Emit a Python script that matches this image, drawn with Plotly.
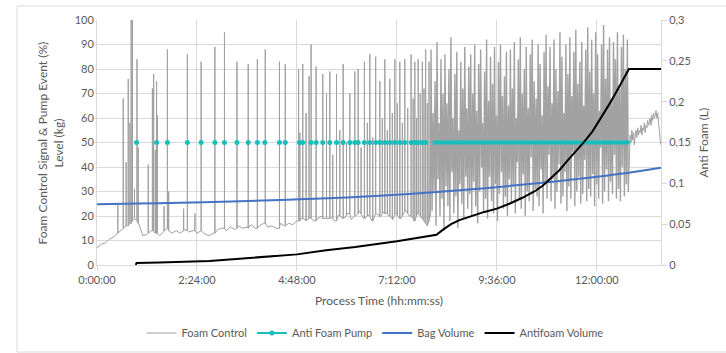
import plotly.graph_objects as go

# ---------------- tick labels ----------------
x_tick_hours = [0, 2.4, 4.8, 7.2, 9.6, 12.0]
x_tick_labels = ["0:00:00", "2:24:00", "4:48:00", "7:12:00", "9:36:00", "12:00:00"]
y2_tick_vals = [0, 0.05, 0.1, 0.15, 0.2, 0.25, 0.3]
y2_tick_labels = ["0", "0,05", "0,1", "0,15", "0,2", "0,25", "0,3"]

# ---------------- Foam Control (%) ----------------
# baseline sampled every 0.1 h from 0:00 to 8:00
foam_base_step = 0.1
foam_base_values = [7, 8.5, 9, 10.5, 11.5, 13, 14.5, 16, 17, 19,
                    17, 12, 12.5, 14, 13, 12, 13.5, 15, 13, 14,
                    13, 14.5, 13.5, 14, 13, 14, 12.5, 12, 13, 14.5,
                    15, 14, 15.5, 14.5, 16, 15, 15.5, 16.5, 15, 16,
                    17, 15.5, 16, 15, 17, 16, 17, 16.5, 18, 19,
                    18.5, 19.5, 18, 19, 20, 19, 19.5, 18, 20.5, 19,
                    21, 18.5, 20, 22, 19, 20.5, 18, 21, 19.5, 22,
                    20, 18.5, 21, 19, 22.5, 20, 18, 21.5, 19, 17, 20]
# spikes (hours, foot value, peak value)
spike_times = [0.50, 0.63, 0.70, 0.75, 0.79, 0.82, 0.85, 0.90, 0.96, 0.99,
               1.23, 1.33, 1.36, 1.40, 1.43, 1.45, 1.61, 1.69, 1.72, 2.08,
               2.17, 2.35, 2.50, 2.83, 3.06, 3.36, 3.63, 3.85, 4.04, 4.38,
               4.52, 4.84, 4.87, 4.94, 5.02, 5.09, 5.14, 5.26, 5.42, 5.51,
               5.59, 5.66, 5.75, 5.83, 5.91, 5.99, 6.07, 6.19, 6.27, 6.34,
               6.42, 6.49, 6.55, 6.62, 6.69, 6.79, 6.85, 6.91, 6.97, 7.03,
               7.09, 7.15, 7.21, 7.27, 7.33, 7.39, 7.46, 7.54, 7.59, 7.63,
               7.67, 7.71, 7.76, 7.81, 7.85, 7.89, 7.93, 7.97]
spike_lows = [13, 15, 16, 16, 17, 17, 18, 19, 18, 17,
              13, 14, 14, 13, 13, 13, 14, 15, 14, 14,
              14, 14, 14, 13, 15, 15, 15, 15, 17, 15,
              16, 18, 18, 19, 18, 19, 19, 18, 19, 19,
              19, 19, 18, 20, 19, 20, 21, 20, 21, 21,
              19, 20, 20, 18, 21, 20, 21, 21, 21, 20,
              19, 21, 20, 19, 20, 22, 21, 20, 19, 18,
              20, 21, 20, 19, 18, 17, 16, 18]
spike_highs = [25, 68, 42, 76, 58, 100, 100, 31, 84, 48,
               41, 72, 78, 47, 75, 61, 24, 88, 30, 23,
               86, 21, 83, 89, 95, 83, 82, 84, 88, 83,
               82, 80, 54, 82, 62, 77, 90, 81, 78, 70,
               79, 45, 78, 55, 82, 50, 70, 79, 80, 48,
               83, 58, 86, 52, 85, 75, 60, 84, 55, 76,
               62, 84, 66, 83, 58, 84, 64, 86, 68, 83,
               60, 84, 70, 83, 72, 88, 66, 83]
# dense oscillation period (8:01 - 12:47)
dense_start = 8.02
dense_end = 12.78
dense_peaks = [88, 62, 75, 91, 58, 84, 70, 86, 66, 80, 93, 60, 78, 87, 55, 83, 72, 89, 64, 81,
               86, 70, 90, 63, 82, 88, 58, 79, 92, 67, 85, 74, 89, 61, 83, 90, 69, 77, 87, 65,
               88, 72, 91, 60, 84, 93, 70, 80, 89, 64, 86, 92, 75, 68, 90, 82, 61, 87, 94, 73,
               89, 66, 92, 80, 71, 95, 85, 62, 90, 78, 93, 69, 87, 96, 74, 83, 91, 65, 88, 97,
               79, 92, 70, 95, 86, 63, 90, 98, 76, 88, 93, 68, 91, 84, 95, 72, 89, 94, 80, 92]
dense_troughs = [22, 30, 16, 35, 20, 27, 14, 32, 24, 18, 38, 21, 28, 15, 33, 25, 19, 36, 23, 29,
                 20, 34, 24, 17, 30, 40, 22, 27, 19, 36, 26, 21, 33, 18, 29, 38, 23, 28, 20, 35,
                 25, 32, 21, 42, 27, 23, 37, 20, 30, 26, 44, 22, 31, 28, 24, 39, 21, 33, 27, 45,
                 26, 35, 23, 30, 41, 25, 28, 38, 22, 32, 27, 46, 24, 30, 36, 25, 29, 43, 26, 31,
                 28, 37, 24, 33, 27, 48, 25, 30, 39, 26, 34, 29, 45, 27, 31, 26, 40, 28, 33, 30]
# tail after last pump event
tail_start = 12.80
tail_step = 0.02
tail_values = [53, 50, 55, 51, 54, 49, 53, 55, 52, 56, 53, 55, 54, 57, 53, 56, 55, 58, 54,
               57, 56, 59, 57, 58, 60, 57, 61, 59, 62, 60, 61, 63, 60, 62, 58, 55, 51, 49]

# ---------------- Anti Foam Pump events (hours, level 50) ----------------
pump_level = 50
pump_event_times = [0.95, 1.43, 1.69, 2.17, 2.50, 2.83, 3.06, 3.36, 3.63, 3.85, 4.03,
                    4.38, 4.52, 4.86, 4.94, 5.14, 5.26, 5.42, 5.59, 5.75, 5.91, 6.07,
                    6.19, 6.27, 6.42, 6.55, 6.69, 6.79, 6.91, 7.03, 7.15, 7.27, 7.39,
                    7.54, 7.63, 7.71, 7.81, 7.89]
pump_continuous = [8.06, 12.79]

# ---------------- Bag Volume (kg) ----------------
bag_times = [0, 1, 2, 3, 4, 5, 6, 7, 8, 9, 10, 11, 12, 13, 13.54]
bag_values = [24.8, 25.1, 25.4, 25.8, 26.3, 26.9, 27.6, 28.5, 29.6, 30.9, 32.4, 34.1, 36.0, 38.3, 39.7]

# ---------------- Antifoam Volume (L) ----------------
af_times = [0.93, 0.95, 1.5, 2.0, 2.7, 3.5, 4.2, 4.8, 5.5, 6.2, 7.2, 7.8, 8.15, 8.3, 8.5,
            8.7, 9.0, 9.3, 9.6, 9.9, 10.2, 10.5, 10.7, 10.9, 11.1, 11.3, 11.5, 11.7, 11.9,
            12.1, 12.3, 12.5, 12.65, 12.77, 13.54]
af_values = [0.0, 0.0025, 0.003, 0.004, 0.005, 0.008, 0.011, 0.013, 0.018, 0.022, 0.029,
             0.034, 0.037, 0.043, 0.050, 0.055, 0.060, 0.065, 0.069, 0.075, 0.082, 0.090,
             0.097, 0.106, 0.116, 0.128, 0.139, 0.151, 0.164, 0.180, 0.197, 0.215, 0.229,
             0.240, 0.240]

# ---------------- build foam series ----------------
pts = [(i * foam_base_step, v, 0) for i, v in enumerate(foam_base_values)]
for t, lo, hi in zip(spike_times, spike_lows, spike_highs):
    pts += [(t, lo, 1), (t, hi, 2), (t, lo, 3)]
pts.sort(key=lambda p: (p[0], p[2]))
foam_x = [p[0] for p in pts]
foam_y = [p[1] for p in pts]
n = len(dense_peaks)
step = (dense_end - dense_start) / n
dense_x = [foam_x[-1]]
dense_y = [foam_y[-1]]
for i in range(n):
    dense_x += [dense_start + i * step, dense_start + (i + 0.5) * step]
    dense_y += [dense_peaks[i], dense_troughs[i]]
tail_x = [dense_x[-1]] + [tail_start + i * tail_step for i in range(len(tail_values))]
tail_y = [dense_y[-1]] + list(tail_values)

pump_x, pump_y = [], []
for t in pump_event_times:
    pump_x += [t, None]
    pump_y += [pump_level, None]

FONT = "Lato, 'Open Sans', sans-serif"
GRID = "#d9d9d9"
TXT = "#595959"
CYAN = "#17BEBB"
FOAM = "#a0a0a0"

fig = go.Figure()
fig.add_trace(go.Scatter(x=foam_x, y=foam_y, mode="lines", name="Foam Control",
                         legendgroup="foam", line=dict(color=FOAM, width=1, simplify=False)))
fig.add_trace(go.Scatter(x=dense_x, y=dense_y, mode="lines", name="Foam Control",
                         legendgroup="foam", showlegend=False,
                         line=dict(color="#a2a2a2", width=1.4, simplify=False)))
fig.add_trace(go.Scatter(x=tail_x, y=tail_y, mode="lines", name="Foam Control",
                         legendgroup="foam", showlegend=False,
                         line=dict(color=FOAM, width=1, simplify=False)))
fig.add_trace(go.Scatter(x=pump_x, y=pump_y, mode="lines+markers", name="Anti Foam Pump",
                         line=dict(color=CYAN, width=2), marker=dict(size=5, color=CYAN),
                         connectgaps=False))
fig.add_trace(go.Scatter(x=pump_continuous, y=[pump_level] * len(pump_continuous), mode="lines",
                         showlegend=False, line=dict(color=CYAN, width=4)))
fig.add_trace(go.Scatter(x=bag_times, y=bag_values, mode="lines", name="Bag Volume",
                         line=dict(color="#4472C4", width=2, shape="spline")))
fig.add_trace(go.Scatter(x=af_times, y=af_values, mode="lines", name="Antifoam Volume",
                         yaxis="y2", line=dict(color="#000000", width=2)))

fig.update_layout(
    width=726, height=353,
    margin=dict(l=97, r=65, t=20, b=88, autoexpand=False),
    paper_bgcolor="white", plot_bgcolor="white",
    font=dict(family=FONT, size=11, color=TXT),
    showlegend=True,
    legend=dict(orientation="h", x=0.493, xanchor="center", yref="container",
                y=1 - 333 / 353, yanchor="middle",
                font=dict(size=11, color=TXT), bgcolor="rgba(0,0,0,0)", itemwidth=30),
    xaxis=dict(range=[0, 13.54], tickvals=x_tick_hours, ticktext=x_tick_labels,
               showgrid=True, gridcolor=GRID, gridwidth=1, zeroline=False,
               showline=True, linecolor=GRID, linewidth=1,
               ticks="outside", ticklen=5, tickcolor=GRID, tickfont=dict(size=11, color=TXT)),
    yaxis=dict(range=[0, 100], dtick=10, tick0=0, showgrid=True, gridcolor=GRID, gridwidth=1,
               zeroline=False, showline=True, linecolor=GRID, linewidth=1, ticks="",
               tickfont=dict(size=11, color=TXT)),
    yaxis2=dict(range=[0, 0.3], overlaying="y", side="right", tickvals=y2_tick_vals,
                ticktext=y2_tick_labels, showgrid=False, zeroline=False,
                showline=True, linecolor=GRID, linewidth=1, ticks="outside", ticklen=5,
                tickcolor=GRID, tickfont=dict(size=11, color=TXT)),
    annotations=[
        dict(text="Foam Control Signal & Pump Event (%)<br>Level (kg)", xref="paper", yref="paper",
             x=-0.0816, y=0.5, xanchor="center", yanchor="middle", textangle=-90,
             showarrow=False, font=dict(size=12, color=TXT)),
        dict(text="Anti Foam (L)", xref="paper", yref="paper", x=1.0745, y=0.5,
             xanchor="center", yanchor="middle", textangle=-90, showarrow=False,
             font=dict(size=12, color=TXT)),
        dict(text="Process Time (hh:mm:ss)", xref="paper", yref="paper", x=0.5, y=-0.143,
             xanchor="center", yanchor="middle", showarrow=False, font=dict(size=12, color=TXT)),
    ],
    shapes=[dict(type="rect", xref="paper", yref="paper",
                 x0=(17 - 97) / 564, x1=(730 - 97) / 564,
                 y0=(265 - 352) / 245, y1=(265 - 6) / 245,
                 line=dict(color=GRID, width=1), fillcolor="rgba(0,0,0,0)", layer="below")],
)

fig.write_html("out.html")
